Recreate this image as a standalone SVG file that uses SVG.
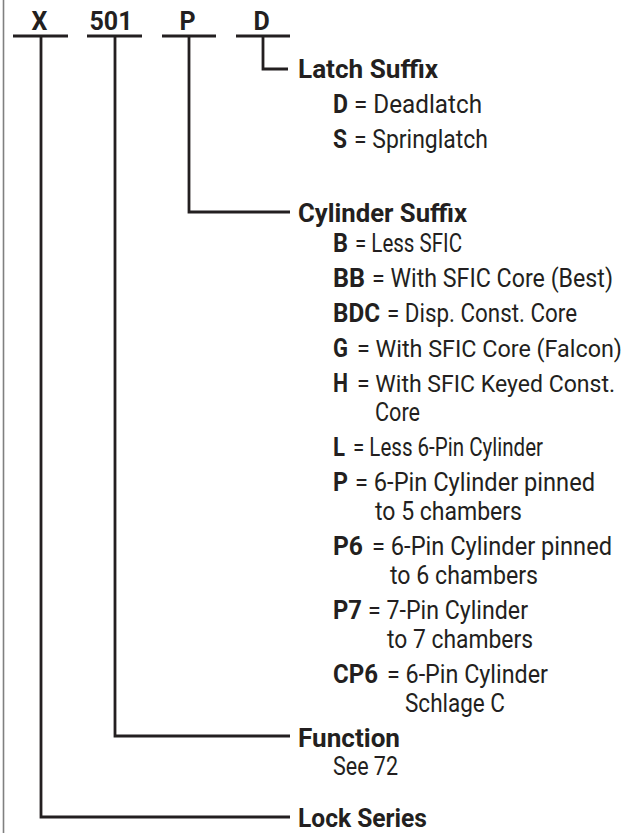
<svg xmlns="http://www.w3.org/2000/svg" width="633" height="833" viewBox="0 0 633 833">
<style>
text{font-family:Roboto,"Liberation Sans",sans-serif;fill:#231f20;font-size:25px}
.b{font-weight:bold}
.s{font-size:23.5px}
.hd{font-weight:bold;font-size:25px;text-anchor:middle}
.lbl{font-weight:bold;font-size:26px}
.ln{fill:none;stroke:#231f20;stroke-width:2.8}
.border{fill:none;stroke:#808080;stroke-width:1.6}
</style>
<rect width="633" height="833" fill="#ffffff"/>
<line class="border" x1="3.5" y1="0" x2="3.5" y2="833"/>
<g id="codes">
<text class="hd" x="39.5" y="30">X</text>
<text class="hd" x="111" y="30">501</text>
<text class="hd" x="187.5" y="30">P</text>
<text class="hd" x="261.5" y="30">D</text>
<line class="ln" x1="13" y1="36" x2="68" y2="36"/>
<line class="ln" x1="87" y1="36" x2="142" y2="36"/>
<line class="ln" x1="162" y1="36" x2="216" y2="36"/>
<line class="ln" x1="236" y1="36" x2="290" y2="36"/>
</g>
<g id="connectors">
<polyline class="ln" points="263,36 263,69 288,69"/>
<polyline class="ln" points="189,36 189,212 290,212"/>
<polyline class="ln" points="115,36 115,736 290,736"/>
<polyline class="ln" points="41,36 41,817 290,817"/>
</g>
<g id="latch-suffix">
<text class="lbl" x="298" y="78" textLength="140" lengthAdjust="spacingAndGlyphs">Latch Suffix</text>
<text class="b" x="333" y="113" textLength="15" lengthAdjust="spacingAndGlyphs">D</text>
<text x="354" y="113" textLength="128" lengthAdjust="spacingAndGlyphs">= Deadlatch</text>
<text class="b" x="333" y="148" textLength="14" lengthAdjust="spacingAndGlyphs">S</text>
<text x="354" y="148" textLength="134" lengthAdjust="spacingAndGlyphs">= Springlatch</text>
</g>
<g id="cylinder-suffix">
<text class="lbl" x="298" y="222" textLength="169" lengthAdjust="spacingAndGlyphs">Cylinder Suffix</text>
<text class="b" x="333" y="252" textLength="15" lengthAdjust="spacingAndGlyphs">B</text>
<text x="355" y="252" textLength="107" lengthAdjust="spacingAndGlyphs">= Less SFIC</text>
<text class="b" x="333" y="287" textLength="32" lengthAdjust="spacingAndGlyphs">BB</text>
<text x="372" y="287" textLength="241" lengthAdjust="spacingAndGlyphs">= With SFIC Core (Best)</text>
<text class="b" x="333" y="322" textLength="47" lengthAdjust="spacingAndGlyphs">BDC</text>
<text x="387" y="322" textLength="190" lengthAdjust="spacingAndGlyphs">= Disp. Const. Core</text>
<text class="b" x="333" y="357" textLength="15" lengthAdjust="spacingAndGlyphs">G</text>
<text class="s" x="357" y="357" textLength="265" lengthAdjust="spacingAndGlyphs">= With SFIC Core (Falcon)</text>
<text class="b" x="333" y="392" textLength="15" lengthAdjust="spacingAndGlyphs">H</text>
<text class="s" x="357" y="392" textLength="258" lengthAdjust="spacingAndGlyphs">= With SFIC Keyed Const.</text>
<text x="375" y="421" textLength="45" lengthAdjust="spacingAndGlyphs">Core</text>
<text class="b" x="333" y="456" textLength="12" lengthAdjust="spacingAndGlyphs">L</text>
<text x="353" y="456" textLength="190" lengthAdjust="spacingAndGlyphs">= Less 6-Pin Cylinder</text>
<text class="b" x="333" y="491" textLength="15" lengthAdjust="spacingAndGlyphs">P</text>
<text x="355" y="491" textLength="240" lengthAdjust="spacingAndGlyphs">= 6-Pin Cylinder pinned</text>
<text x="375" y="520" textLength="147" lengthAdjust="spacingAndGlyphs">to 5 chambers</text>
<text class="b" x="333" y="555" textLength="30" lengthAdjust="spacingAndGlyphs">P6</text>
<text x="372" y="555" textLength="240" lengthAdjust="spacingAndGlyphs">= 6-Pin Cylinder pinned</text>
<text x="390" y="584" textLength="148" lengthAdjust="spacingAndGlyphs">to 6 chambers</text>
<text class="b" x="333" y="619" textLength="29" lengthAdjust="spacingAndGlyphs">P7</text>
<text x="368" y="619" textLength="160" lengthAdjust="spacingAndGlyphs">= 7-Pin Cylinder</text>
<text x="387" y="648" textLength="146" lengthAdjust="spacingAndGlyphs">to 7 chambers</text>
<text class="b" x="333" y="683" textLength="45" lengthAdjust="spacingAndGlyphs">CP6</text>
<text x="387" y="683" textLength="161" lengthAdjust="spacingAndGlyphs">= 6-Pin Cylinder</text>
<text x="405" y="712" textLength="100" lengthAdjust="spacingAndGlyphs">Schlage C</text>
</g>
<g id="function">
<text class="lbl" x="298" y="747" textLength="102" lengthAdjust="spacingAndGlyphs">Function</text>
<text x="333" y="775" textLength="65" lengthAdjust="spacingAndGlyphs">See 72</text>
</g>
<g id="lock-series">
<text class="lbl" x="298" y="827" textLength="129" lengthAdjust="spacingAndGlyphs">Lock Series</text>
</g>
</svg>
